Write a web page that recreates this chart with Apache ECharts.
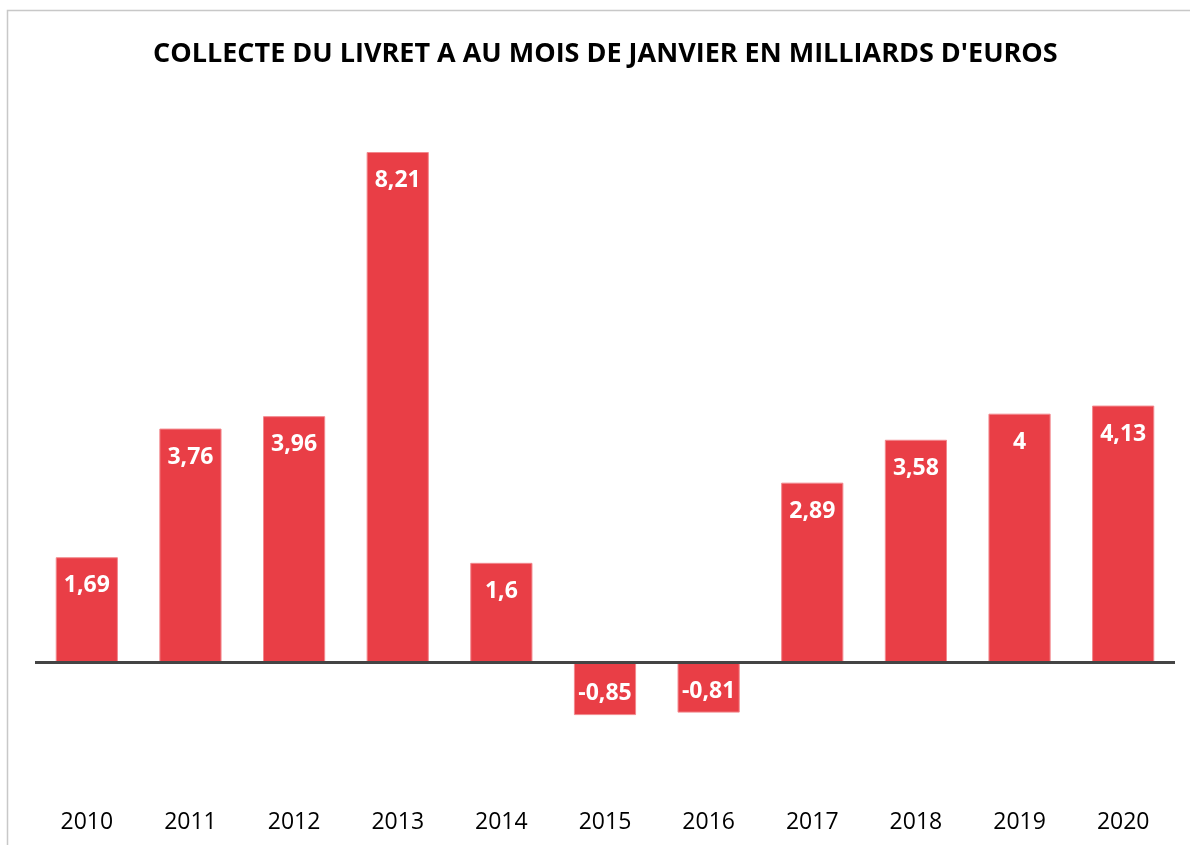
<!DOCTYPE html>
<html>
<head>
<meta charset="utf-8">
<script src="https://cdn.jsdelivr.net/npm/echarts@6/dist/echarts.min.js"></script>
<style>
  html, body { margin: 0; padding: 0; background: #fff; }
  #chart { width: 1190px; height: 845px; }
</style>
</head>
<body>
<div id="chart"></div>
<script>
// années et collecte (Md€)
const years = ['2010', '2011', '2012', '2013', '2014', '2015', '2016', '2017', '2018', '2019', '2020']
const collecte = [1.69, 3.76, 3.96, 8.21, 1.6, -0.85, -0.81, 2.89, 3.58, 4, 4.13]
const titre = "COLLECTE DU LIVRET A AU MOIS DE JANVIER EN MILLIARDS D'EUROS"

const myChart = echarts.init(document.getElementById('chart'))

// label en bout de barre, côté extrémité (comme Excel)
const barData = collecte.map(v => ({
  value: v,
  label: v < 0 ? { position: 'insideBottom', distance: 10 } : { position: 'insideTop', distance: 17 }
}))

const option = {
  animation: false,
  backgroundColor: '#fff',
  graphic: [{
    type: 'rect',
    shape: { x: 7.5, y: 10.5, width: 1200, height: 900 },
    style: { fill: 'none', stroke: '#c8c8c8', lineWidth: 1.5 },
    silent: true
  }],
  title: {
    text: titre,
    left: 148,
    top: 36,
    textStyle: { fontFamily: 'Open Sans', fontWeight: 'bold', fontSize: 27, color: '#000' }
  },
  grid: { left: 35, right: 15, top: 134, bottom: 46 },
  xAxis: {
    type: 'category',
    data: years,
    axisLine: { show: false },
    axisTick: { show: false },
    axisLabel: { fontFamily: 'Open Sans', fontSize: 23, color: '#000', margin: 12 }
  },
  yAxis: {
    type: 'value',
    min: -2.2,
    max: 8.5,
    show: false,
    splitLine: { show: false }
  },
  series: [{
    type: 'bar',
    data: barData,
    barWidth: '60%',
    itemStyle: { color: '#E93E46', borderColor: '#F2888D', borderWidth: 1 },
    label: {
      show: true,
      color: '#fff',
      fontFamily: 'Open Sans',
      fontWeight: 'bold',
      fontSize: 23,
      formatter: p => String(p.value).replace('.', ',')
    },
    markLine: {
      silent: true,
      symbol: 'none',
      label: { show: false },
      lineStyle: { color: '#444', width: 3, type: 'solid' },
      data: [{ yAxis: 0 }]
    }
  }]
}
myChart.setOption(option)
</script>
</body>
</html>
